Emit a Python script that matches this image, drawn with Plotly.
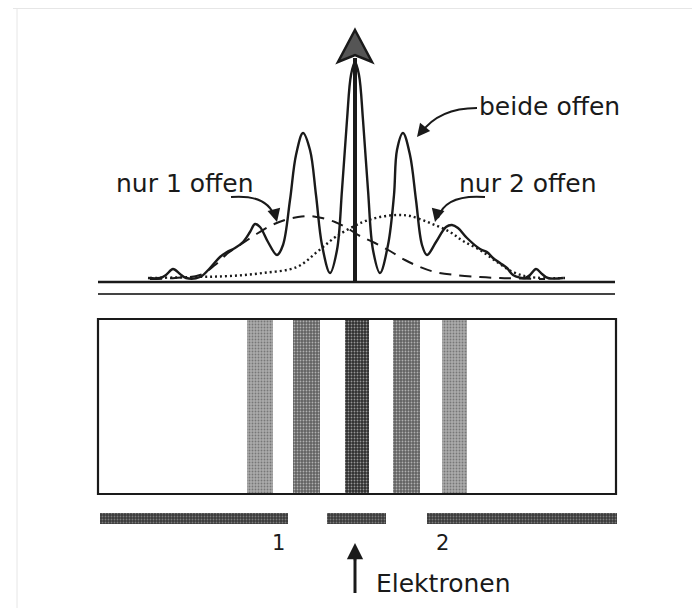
import plotly.graph_objects as go

# ---------------- data (diagram units: position relative to centre, intensity above baseline)
both_pos = [-207, -195, -189, -182, -175, -169, -155, -145, -135, -128, -120, -112, -105, -100, -95, -87, -78,
            -72, -65, -59, -52, -45, -39, -33, -25, -18, -13, -8, -4, 0, 4, 8, 13, 18, 25, 33, 39, 42, 48, 55,
            61, 67, 72, 81, 91, 97, 103, 112, 125, 132, 138, 145, 152, 158, 170, 175, 181, 187, 193, 208]
both_int = [4, 4, 7, 13, 8, 4, 5, 14, 25, 30, 34, 40, 50, 58, 55, 40, 27,
            37, 82, 127, 149, 132, 87, 37, 9, 32, 92, 162, 207, 220, 207, 162, 92, 32, 9, 37, 87, 132, 149, 127,
            82, 37, 27, 40, 55, 57, 54, 44, 33, 30, 24, 19, 14, 7, 4, 7, 13, 8, 4, 4]

only1_pos = [-205, -180, -155, -140, -127, -115, -100, -85, -70, -57, -45, -33, -20, -8, 5, 20, 35, 50, 65, 80,
             100, 125, 145, 190]
only1_int = [3, 4, 7, 17, 29, 37, 47, 56, 62, 65, 66, 64, 60, 54, 46, 39, 31, 22, 15, 10, 7, 5, 4, 3]

only2_pos = [-205, -158, -125, -92, -58, -38, -18, 8, 25, 42, 55, 75, 95, 108, 125, 142, 158, 175, 210]
only2_int = [4, 5, 6, 9, 15, 30, 46, 60, 65, 67, 66, 59, 50, 41, 32, 20, 10, 5, 4]

band_pos = [-95, -48.5, 2, 51.5, 99.5]
band_width = [26, 27, 24, 27, 25]
band_density = [0.33, 0.62, 0.82, 0.62, 0.33]

slit_wall_from = [-255, -28, 72]
slit_wall_to = [-67, 31, 262]

labels = ["beide offen", "nur 1 offen", "nur 2 offen"]
slit_labels = ["1", "2"]
source_label = "Elektronen"

# ---------------- geometry
SCREEN = dict(x0=-257, x1=261, y0=-212, y1=-37)
WALL_Y0, WALL_Y1 = -242, -231
LINE_X0, LINE_X1 = -257, 260
INK = "#1a1a1a"
FONT = "DejaVu Sans"


def shade(d):
    v = int(round(255 * (1 - d)))
    return f"rgb({v},{v},{v})"


fig = go.Figure()

# interference bands on the screen
fig.add_trace(go.Bar(
    x=band_pos, width=band_width,
    base=[SCREEN["y0"] + 1] * len(band_pos),
    y=[SCREEN["y1"] - SCREEN["y0"] - 2] * len(band_pos),
    marker=dict(color=[shade(d) for d in band_density], line=dict(width=0),
                pattern=dict(shape=".", fgcolor="#ffffff", size=3, solidity=0.3,
                             fillmode="overlay")),
    hoverinfo="skip", showlegend=False))

# slit wall
fig.add_trace(go.Bar(
    x=[(a + b) / 2 for a, b in zip(slit_wall_from, slit_wall_to)],
    width=[b - a for a, b in zip(slit_wall_from, slit_wall_to)],
    base=[WALL_Y0] * 3, y=[WALL_Y1 - WALL_Y0] * 3,
    marker=dict(color="#3a3a3a", line=dict(width=0),
                pattern=dict(shape=".", fgcolor="#bbbbbb", size=3, solidity=0.3, fillmode="overlay")),
    hoverinfo="skip", showlegend=False))

# curves
fig.add_trace(go.Scatter(x=only1_pos, y=only1_int, mode="lines", line=dict(color=INK, width=2, dash="12px,8px"),
                         line_shape="spline", hoverinfo="skip", showlegend=False))
fig.add_trace(go.Scatter(x=only2_pos, y=only2_int, mode="lines", line=dict(color=INK, width=2.4, dash="2px,3px"),
                         line_shape="spline", hoverinfo="skip", showlegend=False))
fig.add_trace(go.Scatter(x=both_pos, y=both_int, mode="lines", line=dict(color=INK, width=2.4),
                         line_shape="spline", hoverinfo="skip", showlegend=False))

shapes = []
# light frame of the scan
shapes.append(dict(type="line", x0=-342, x1=345, y0=273.5, y1=273.5, line=dict(color="#e6e6e6", width=1)))
shapes.append(dict(type="line", x0=-338, x1=-338, y0=274, y1=-326, line=dict(color="#e6e6e6", width=1)))
# base lines
shapes.append(dict(type="line", x0=LINE_X0, x1=LINE_X1, y0=0, y1=0, line=dict(color=INK, width=2.5)))
shapes.append(dict(type="line", x0=LINE_X0, x1=LINE_X1, y0=-12, y1=-12, line=dict(color="#444444", width=2)))
# screen
shapes.append(dict(type="rect", x0=SCREEN["x0"], x1=SCREEN["x1"], y0=SCREEN["y0"], y1=SCREEN["y1"],
                   line=dict(color=INK, width=2.2)))
# central axis arrow
shapes.append(dict(type="line", x0=0, x1=0, y0=0, y1=224, line=dict(color=INK, width=4)))
shapes.append(dict(type="path", path="M 0,252 L 17,220 L 0,227 L -17,220 Z",
                   fillcolor="#555555", line=dict(color=INK, width=2.5)))
# curved label arrows
shapes.append(dict(type="path", path="M 122,174 Q 84,174 66,149", line=dict(color=INK, width=2)))
shapes.append(dict(type="path", path="M -124,85 Q -87,88 -80,64", line=dict(color=INK, width=2)))
shapes.append(dict(type="path", path="M 130,85 Q 90,88 83,64", line=dict(color=INK, width=2)))
# electron arrow
shapes.append(dict(type="line", x0=0, x1=0, y0=-311, y1=-266, line=dict(color=INK, width=3)))
fig.update_layout(shapes=shapes)

ann = []
ann.append(dict(x=62, y=145, ax=70, ay=155, axref="x", ayref="y", xref="x", yref="y", text="",
                showarrow=True, arrowhead=2, arrowsize=1.3, arrowwidth=2, arrowcolor=INK, standoff=0))
ann.append(dict(x=-78, y=60, ax=-81, ay=72, axref="x", ayref="y", xref="x", yref="y", text="",
                showarrow=True, arrowhead=2, arrowsize=1.3, arrowwidth=2, arrowcolor=INK, standoff=0))
ann.append(dict(x=80, y=60, ax=83, ay=72, axref="x", ayref="y", xref="x", yref="y", text="",
                showarrow=True, arrowhead=2, arrowsize=1.3, arrowwidth=2, arrowcolor=INK, standoff=0))
ann.append(dict(x=0, y=-261, ax=0, ay=-280, axref="x", ayref="y", xref="x", yref="y", text="",
                showarrow=True, arrowhead=2, arrowsize=1.3, arrowwidth=2.5, arrowcolor=INK, standoff=0))

txt_font = dict(family=FONT, size=25, color=INK)
ann.append(dict(x=122, y=176, text=labels[0], showarrow=False, xanchor="left", yanchor="middle", font=txt_font))
ann.append(dict(x=-241, y=99, text=labels[1], showarrow=False, xanchor="left", yanchor="middle", font=txt_font))
ann.append(dict(x=102, y=99, text=labels[2], showarrow=False, xanchor="left", yanchor="middle", font=txt_font))
ann.append(dict(x=-77, y=-261, text=slit_labels[0], showarrow=False, xanchor="center", yanchor="middle",
                font=dict(family=FONT, size=21, color=INK)))
ann.append(dict(x=87, y=-261, text=slit_labels[1], showarrow=False, xanchor="center", yanchor="middle",
                font=dict(family=FONT, size=21, color=INK)))
ann.append(dict(x=19, y=-301, text=source_label, showarrow=False, xanchor="left", yanchor="middle", font=txt_font))
fig.update_layout(annotations=ann)

# the page body adds an 8px margin, so the figure covers page pixels 8..700 x 8..608
fig.update_layout(
    width=692, height=600,
    margin=dict(l=0, r=0, t=0, b=0),
    paper_bgcolor="white", plot_bgcolor="white",
    barmode="overlay", bargap=0,
    xaxis=dict(range=[-347, 345], visible=False, fixedrange=True),
    yaxis=dict(range=[-326, 274], visible=False, fixedrange=True),
    showlegend=False,
)

fig.write_html("out.html", config={"displayModeBar": False})
